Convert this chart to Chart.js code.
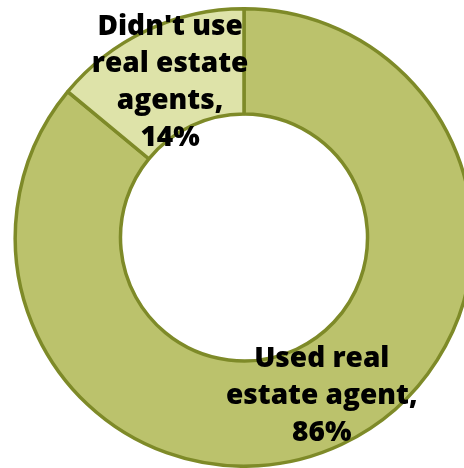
<!DOCTYPE html>
<html>
<head>
<meta charset="utf-8">
<script src="https://cdn.jsdelivr.net/npm/chart.js@4/dist/chart.umd.min.js"></script>
<style>
  html, body { margin: 0; padding: 0; background: #fff; overflow: hidden; }
  #wrap { width: 488px; height: 468px; }
</style>
</head>
<body>
<div id="wrap"><canvas id="agentChart" width="488" height="468"></canvas></div>
<script>
// Datos: uso de agentes inmobiliarios
const categories = ["Used real estate agent", "Didn't use real estate agents"];
const shares = [86, 14];
// Texto de cada etiqueta, partido en líneas
const labelLines = [
    ['Used real', 'estate agent,'],
    ["Didn't use", 'real estate', 'agents,']
];

const fillColors = ['#BBC26C', '#DEE3A9'];
const edgeColor = '#7E8A28';

// Posición de cada etiqueta relativa al centro, en fracciones del radio
const labelOffsets = [
    { x: 0.34, y: 0.565 },
    { x: -0.323, y: -0.884 }
];

const labelPlugin = {
    id: 'sliceLabels',
    afterDatasetsDraw(chart) {
        const meta = chart.getDatasetMeta(0);
        const ctx = chart.ctx;
        ctx.save();
        ctx.font = '800 28px "Open Sans"';
        ctx.fillStyle = '#000';
        ctx.textAlign = 'center';
        ctx.textBaseline = 'alphabetic';
        meta.data.forEach((arc, i) => {
            const r = arc.outerRadius;
            const cx = arc.x + labelOffsets[i].x * r;
            const cy = arc.y + labelOffsets[i].y * r;
            const lines = labelLines[i].concat(shares[i] + '%');
            lines.forEach((line, j) => {
                ctx.fillText(line, cx, cy + j * 37);
            });
        });
        ctx.restore();
    }
};

new Chart(document.getElementById('agentChart'), {
    type: 'doughnut',
    data: {
        labels: categories,
        datasets: [{
            data: shares,
            backgroundColor: fillColors,
            borderColor: edgeColor,
            borderWidth: 3.5
        }]
    },
    options: {
        responsive: false,
        animation: false,
        cutout: '54%',
        layout: { padding: { top: 7, bottom: 0 } },
        plugins: {
            legend: { display: false },
            tooltip: { enabled: false }
        }
    },
    plugins: [labelPlugin]
});
</script>
</body>
</html>
